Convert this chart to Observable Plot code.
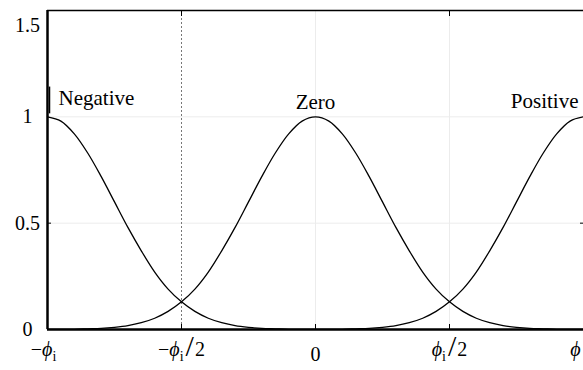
<!DOCTYPE html>
<html>
<head>
<meta charset="utf-8">
<script src="https://cdn.jsdelivr.net/npm/d3@7"></script>
<script src="https://cdn.jsdelivr.net/npm/@observablehq/plot@0.6"></script>
<style>
  html, body { margin: 0; padding: 0; background: #fff; }
  svg { display: block; }
</style>
</head>
<body>
<div id="chart"></div>
<script>
// Fuzzy sets (centres in units of φi) and their names
const setNames = ["Negative", "Zero", "Positive"];
const setCentres = [-1, 0, 1];
const offsets = [0, 0.05, 0.1, 0.15, 0.2, 0.25, 0.3, 0.35, 0.4, 0.45, 0.5,
                 0.55, 0.6, 0.65, 0.7, 0.75, 0.8, 0.85, 0.9, 0.95, 1.0];
const membership = [1.0, 0.98, 0.92, 0.83, 0.72, 0.60, 0.48, 0.37, 0.27, 0.19, 0.13,
                    0.085, 0.053, 0.032, 0.018, 0.010, 0.005, 0.003, 0.001, 0.0007, 0.0003];
// Tick values and labels
const xTicks = [-1, -0.5, 0, 0.5, 1];
const xTickLabels = ["−ϕi", "−ϕi/2", "0", "ϕi/2", "ϕ"];
const yTicks = [0, 0.5, 1, 1.5];
const yTickLabels = ["0", "0.5", "1", "1.5"];

// Build line rows
const rows = [];
setNames.forEach((name, k) => {
  const c = setCentres[k];
  const pts = [];
  offsets.forEach((o, j) => {
    pts.push({set: name, x: c - o, y: membership[j]});
    if (o !== 0) pts.push({set: name, x: c + o, y: membership[j]});
  });
  pts.filter(p => p.x >= -1 && p.x <= 1).sort((a, b) => a.x - b.x).forEach(p => rows.push(p));
});

const xt = xTicks.map((v, i) => ({v, label: xTickLabels[i]}));
const yt = yTicks.map((v, i) => ({v, label: yTickLabels[i]}));
const setLabels = setNames.map((n, i) => ({name: n, c: setCentres[i]}));
const F = "Liberation Serif";

const plot = Plot.plot({
  width: 583,
  height: 370,
  marginLeft: 47,
  marginRight: 0,
  marginTop: 10,
  marginBottom: 41,
  x: {domain: [-1, 1], axis: null},
  y: {domain: [0, 1.5], axis: null},
  marks: [
    Plot.gridY([0.5, 1], {stroke: "#ececec", strokeOpacity: 1}),
    Plot.gridX([0, 0.5], {stroke: "#ececec", strokeOpacity: 1}),
    Plot.ruleX([-0.5], {stroke: "#777", strokeDasharray: "2,2", strokeWidth: 1}),
    // axis ticks pointing inward
    Plot.axisX({anchor: "bottom", ticks: [-0.5, 0, 0.5], tickSize: -5, tickFormat: () => "", label: null, strokeWidth: 1}),
    Plot.axisX({anchor: "top", ticks: [-0.5, 0.5], tickSize: -5, tickFormat: () => "", label: null, strokeWidth: 1}),
    Plot.axisY({anchor: "left", ticks: [0.5], tickSize: -4, tickFormat: () => "", label: null}),
    Plot.axisY({anchor: "right", ticks: [0.5], tickSize: -4, tickFormat: () => "", label: null}),
    // curves
    Plot.line(rows, {x: "x", y: "y", z: "set", stroke: "#000", strokeWidth: 1.3, curve: "catmull-rom"}),
    // frame
    Plot.ruleY([1.5], {stroke: "#000", strokeWidth: 1.6}),
    Plot.ruleY([0], {stroke: "#000", strokeWidth: 2.5}),
    Plot.ruleX([-1], {stroke: "#000", strokeWidth: 2.5}),
    Plot.ruleX([-1], {y1: 1.014, y2: 1.14, dx: 2, stroke: "#000", strokeWidth: 1.5}),
    // set names
    Plot.text(setLabels.filter(d => d.name === "Negative"), {x: "c", y: 1.089, text: "name", dx: 11, textAnchor: "start", fontSize: 21, fontFamily: F, fill: "#000"}),
    Plot.text(setLabels.filter(d => d.name === "Zero"), {x: "c", y: 1.069, text: "name", textAnchor: "middle", fontSize: 21, fontFamily: F, fill: "#000"}),
    Plot.text(setLabels.filter(d => d.name === "Positive"), {x: "c", y: 1.073, text: "name", dx: -5, textAnchor: "end", fontSize: 21, fontFamily: F, fill: "#000"}),
    // y tick labels
    Plot.text(yt.filter(d => d.v < 1.5), {y: "v", text: "label", frameAnchor: "left", dx: -20, textAnchor: "middle", fontSize: 20, fontFamily: F, fill: "#000"}),
    Plot.text(yt.filter(d => d.v === 1.5), {y: "v", text: "label", frameAnchor: "left", dx: -20, dy: 15, textAnchor: "middle", fontSize: 20, fontFamily: F, fill: "#000"}),
    // x tick labels
    Plot.text(xt.filter(d => d.v > -1 && d.v < 1 && d.label !== "0"), {x: "v", text: "label", frameAnchor: "bottom", dy: 26, textAnchor: "middle", fontSize: 20, fontFamily: F, fill: "#000"}),
    Plot.text(xt.filter(d => d.v === -1), {x: "v", text: "label", frameAnchor: "bottom", dy: 26, dx: -4, textAnchor: "middle", fontSize: 20, fontFamily: F, fill: "#000"}),
    Plot.text(xt.filter(d => d.label === "0"), {x: "v", text: "label", frameAnchor: "bottom", dy: 31, textAnchor: "middle", fontSize: 20, fontFamily: F, fill: "#000"}),
    Plot.text(xt.filter(d => d.v === 1), {x: "v", text: "label", frameAnchor: "bottom", dy: 26, dx: -3, textAnchor: "end", fontSize: 20, fontFamily: F, fill: "#000"})
  ]
});

// Typeset ϕ italic, subscript i, tall slash
const NS = "http://www.w3.org/2000/svg";
plot.querySelectorAll("text").forEach(t => {
  const s = t.textContent;
  if (!s.includes("ϕ")) return;
  while (t.firstChild) t.removeChild(t.firstChild);
  let prevPhi = false;
  let shifted = false;
  for (const ch of s) {
    const sp = document.createElementNS(NS, "tspan");
    sp.textContent = ch;
    if (ch === "ϕ") {
      sp.setAttribute("font-style", "italic");
      prevPhi = true;
    } else if (ch === "i" && prevPhi) {
      sp.setAttribute("font-size", "14");
      sp.setAttribute("dy", "5");
      shifted = true;
      prevPhi = false;
    } else {
      if (shifted) { sp.setAttribute("dy", "-5"); shifted = false; }
      if (ch === "/") { sp.setAttribute("font-size", "30"); sp.setAttribute("dx", "2"); }
      if (ch === "2") sp.setAttribute("dx", "1");
      prevPhi = false;
    }
    t.appendChild(sp);
  }
});

document.getElementById("chart").appendChild(plot);
</script>
</body>
</html>
